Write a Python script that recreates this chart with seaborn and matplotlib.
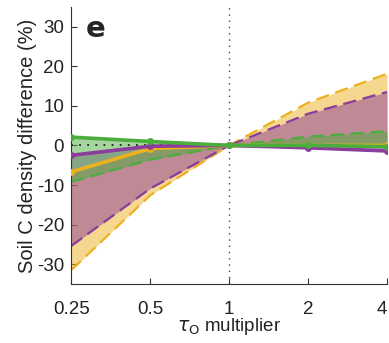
import matplotlib
matplotlib.use("Agg")
import matplotlib.pyplot as plt
import seaborn as sns
import pandas as pd
import numpy as np

# ---- data ----
multipliers = [0.25, 0.5, 1, 2, 4]
tick_labels = ["0.25", "0.5", "1", "2", "4"]

green_mean = [2.1, 1.0, 0.0, 0.0, -0.3]
green_low = [-9.2, -3.6, 0.0, 0.0, -0.3]
green_high = [2.1, 1.0, 0.0, 2.2, 3.6]

purple_mean = [-2.5, -0.2, 0.0, -0.6, -1.4]
purple_low = [-25.4, -10.9, 0.0, -0.6, -1.4]
purple_high = [-2.5, -0.2, 0.0, 8.0, 13.5]

orange_mean = [-6.7, -0.8, 0.0, 0.0, 0.0]
orange_low = [-31.5, -12.6, 0.0, 0.0, 0.0]
orange_high = [-6.7, -0.8, 0.0, 10.8, 18.1]

C_ORANGE = "#edb120"
C_PURPLE = "#8a3d9c"
C_GREEN = "#4aad3c"

sns.set_style("white")
plt.rcParams["font.family"] = ["Liberation Sans", "DejaVu Sans"]

fig = plt.figure(figsize=(3.89, 3.43), dpi=100)
ax = fig.add_axes([0.183, 0.172, 0.812, 0.808])

series = [
    ("orange", C_ORANGE, orange_mean, orange_low, orange_high),
    ("purple", C_PURPLE, purple_mean, purple_low, purple_high),
    ("green", C_GREEN, green_mean, green_low, green_high),
]

# fills
for name, col, m, lo, hi in series:
    ax.fill_between(multipliers, lo, hi, color=col, alpha=0.5, lw=0, zorder=1)

# dashed bounds
for name, col, m, lo, hi in series:
    dlo = pd.DataFrame({"x": multipliers, "y": lo})
    dhi = pd.DataFrame({"x": multipliers, "y": hi})
    for d in (dlo, dhi):
        sns.lineplot(data=d, x="x", y="y", ax=ax, color=col, lw=1.6,
                     dashes=False, zorder=2, linestyle=(0, (6, 3)))

# reference dotted lines
ax.axhline(0, color="#222222", ls=(0, (1, 3.5)), lw=1.3, zorder=3)
ax.axvline(1, color="#444444", ls=(0, (1, 3.5)), lw=1.0, zorder=3)

# mean lines
for name, col, m, lo, hi in series:
    d = pd.DataFrame({"x": multipliers, "y": m})
    sns.lineplot(data=d, x="x", y="y", ax=ax, color=col, lw=2.6,
                 marker="o", markersize=5, markeredgewidth=0, zorder=4)

ax.set_xscale("log", base=2)
ax.set_xlim(0.25, 4)
ax.set_ylim(-35, 35)
ax.set_xticks(multipliers)
ax.set_xticklabels(tick_labels)
ax.minorticks_off()
ax.set_yticks([-30, -20, -10, 0, 10, 20, 30])
ax.set_yticklabels(["-30", "-20", "-10", "0", "10", "20", "30"])
ax.get_xticklabels()[-1].set_horizontalalignment("right")

for s in ["top", "right"]:
    ax.spines[s].set_visible(False)
for s in ["left", "bottom"]:
    ax.spines[s].set_color("#333333")
    ax.spines[s].set_linewidth(0.8)

ax.tick_params(axis="both", direction="in", length=4, width=0.8,
               colors="#333333", labelsize=13.5, labelcolor="#222222",
               left=True, bottom=True)
ax.tick_params(axis="x", pad=12)
ax.tick_params(axis="y", pad=5)

ax.set_xlabel(r"$\tau_{\mathrm{O}}$ multiplier", fontsize=13.5, color="#222222", labelpad=-1)
ax.set_ylabel("Soil C density difference (%)", fontsize=14.5, color="#222222", labelpad=0)

ax.text(0.047, 0.97, "e", transform=ax.transAxes, fontsize=21,
        fontweight="bold", va="top", ha="left", family="DejaVu Sans")

fig.savefig("out.png", dpi=100)
